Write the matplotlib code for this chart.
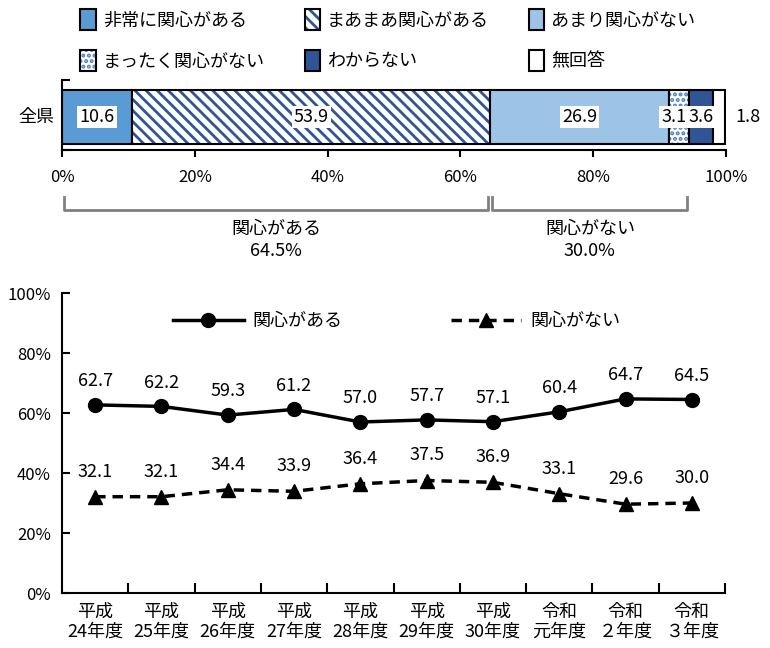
import matplotlib.pyplot as plt
import matplotlib.transforms as mtransforms
from matplotlib.patches import Patch

plt.rcParams['font.family'] = ['Noto Sans CJK JP', 'DejaVu Sans']
plt.rcParams['hatch.linewidth'] = 2.0

# 全県の内訳（%）
categories = ['非常に関心がある', 'まあまあ関心がある', 'あまり関心がない',
              'まったく関心がない', 'わからない', '無回答']
shares = [10.6, 53.9, 26.9, 3.1, 3.6, 1.8]

# 経年推移
years = ['平成\n24年度', '平成\n25年度', '平成\n26年度', '平成\n27年度', '平成\n28年度',
         '平成\n29年度', '平成\n30年度', '令和\n元年度', '令和\n２年度', '令和\n３年度']
interested = [62.7, 62.2, 59.3, 61.2, 57.0, 57.7, 57.1, 60.4, 64.7, 64.5]
not_interested = [32.1, 32.1, 34.4, 33.9, 36.4, 37.5, 36.9, 33.1, 29.6, 30.0]

W, H = 770, 648
fig = plt.figure(figsize=(W / 100, H / 100), dpi=100)


def axes_px(l, t, r, b):
    return fig.add_axes([l / W, 1 - b / H, (r - l) / W, (b - t) / H])


# ---- 帯グラフ ----
fills = ['#5b9bd5', 'white', '#9dc3e6', 'white', '#2f5597', 'white']
hatches = [None, '\\\\\\', None, '...', None, None]
hatch_cols = [None, '#2f5597', None, '#4a7cc4', None, None]

ax1 = axes_px(62, 80, 726, 150)
left = 0
for i, v in enumerate(shares):
    if hatches[i]:
        ax1.barh(-0.03, v, left=left, height=0.76, color=fills[i],
                 hatch=hatches[i], edgecolor=hatch_cols[i], linewidth=0)
        ax1.barh(-0.03, v, left=left, height=0.76, fill=False,
                 edgecolor='black', linewidth=1.5)
    else:
        ax1.barh(-0.03, v, left=left, height=0.76, color=fills[i],
                 edgecolor='black', linewidth=1.5)
    box = dict(facecolor='white', edgecolor='none', pad=1.5)
    if i == len(shares) - 1:
        ax1.annotate(f'{v:.1f}', (left + v, -0.03), xytext=(7, 0),
                     textcoords='offset points', ha='left', va='center', fontsize=13)
    elif i == 3:
        ax1.annotate(f'{v:.1f}', (left + v, -0.03), xytext=(-2, 0),
                     textcoords='offset points', ha='right', va='center',
                     fontsize=13, bbox=box)
    else:
        ax1.text(left + v / 2, -0.03, f'{v:.1f}', ha='center', va='center',
                 fontsize=13, bbox=box)
    left += v

ax1.set_xlim(0, 100)
ax1.set_ylim(-0.5, 0.5)
ax1.set_xticks(range(0, 101, 20))
ax1.set_xticklabels([f'{t}%' for t in range(0, 101, 20)], fontsize=12)
ax1.tick_params(axis='x', direction='out', length=5, width=1.5, pad=9)
ax1.set_yticks([-0.5, 0.5])
ax1.set_yticklabels([])
ax1.tick_params(axis='y', direction='in', length=6, width=1.5)
ax1.text(-0.012, 0.47, '全県', transform=ax1.transAxes, ha='right', va='center',
         fontsize=13)
for s in ['top', 'right']:
    ax1.spines[s].set_visible(False)
for s in ['left', 'bottom']:
    ax1.spines[s].set_linewidth(1.5)

# 関心がある / 関心がない の括弧
trans = mtransforms.blended_transform_factory(ax1.transData, ax1.transAxes)
groups = [('関心がある', 0, shares[0] + shares[1]),
          ('関心がない', shares[0] + shares[1], sum(shares[:4]))]
for name, x0, x1 in groups:
    a, b = x0 + 0.3, x1 - 0.3
    ax1.plot([a, a, b, b], [-0.67, -0.86, -0.86, -0.67], transform=trans,
             color='#808080', lw=2, clip_on=False, solid_joinstyle='round')
    ax1.text((x0 + x1) / 2, -1.29, f'{name}\n{x1 - x0:.1f}%', transform=trans,
             ha='center', va='center', fontsize=13, linespacing=1.3)

# 凡例：模様つきの項目は模様と枠線を重ねる
handles = []
for i in range(len(categories)):
    outline = Patch(facecolor=fills[i], edgecolor='black', linewidth=1.5)
    if hatches[i]:
        pattern = Patch(facecolor='white', edgecolor=hatch_cols[i],
                        hatch=hatches[i], linewidth=0)
        handles.append((pattern, Patch(fill=False, edgecolor='black', linewidth=1.5)))
    else:
        handles.append(outline)
order = [0, 3, 1, 4, 2, 5]
fig.legend([handles[i] for i in order], [categories[i] for i in order],
           loc='upper left', bbox_to_anchor=(64 / W, 1 + 7 / H), ncol=3,
           frameon=False, fontsize=13, handlelength=0.85, handleheight=1.4,
           handletextpad=0.4, labelspacing=1.1, columnspacing=2.2)

# ---- 折れ線グラフ ----
ax2 = axes_px(62, 293, 725, 593)
x = range(len(years))
ax2.plot(x, interested, color='black', lw=2.5, marker='o', markersize=10,
         label='関心がある')
ax2.plot(x, not_interested, color='black', lw=2.5, ls=(0, (3, 2)), marker='^',
         markersize=10, label='関心がない')
for xi, v in zip(x, interested):
    ax2.annotate(f'{v:.1f}', (xi, v), xytext=(0, 17), textcoords='offset points',
                 ha='center', va='center', fontsize=13)
for xi, v in zip(x, not_interested):
    ax2.annotate(f'{v:.1f}', (xi, v), xytext=(0, 18), textcoords='offset points',
                 ha='center', va='center', fontsize=13)

ax2.set_xlim(-0.5, len(years) - 0.5)
ax2.set_ylim(0, 100)
ax2.set_yticks(range(0, 101, 20))
ax2.set_yticklabels([f'{t}%' for t in range(0, 101, 20)], fontsize=12)
ax2.tick_params(axis='y', direction='in', length=6, width=1.5, pad=8)
ax2.set_xticks(list(x))
ax2.set_xticklabels(years, fontsize=13, linespacing=1.15)
ax2.set_xticks([i + 0.5 for i in x], minor=True)
ax2.tick_params(axis='x', which='major', length=0, pad=7)
ax2.tick_params(axis='x', which='minor', direction='in', length=7, width=1.5)
for s in ['top', 'right']:
    ax2.spines[s].set_visible(False)
for s in ['left', 'bottom']:
    ax2.spines[s].set_linewidth(1.5)

ax2.legend(loc='center', bbox_to_anchor=(0.505, 0.907), ncol=2, frameon=False,
           fontsize=13, handlelength=3.9, handletextpad=0.5, columnspacing=6.0)

fig.savefig('out.png', dpi=100)
